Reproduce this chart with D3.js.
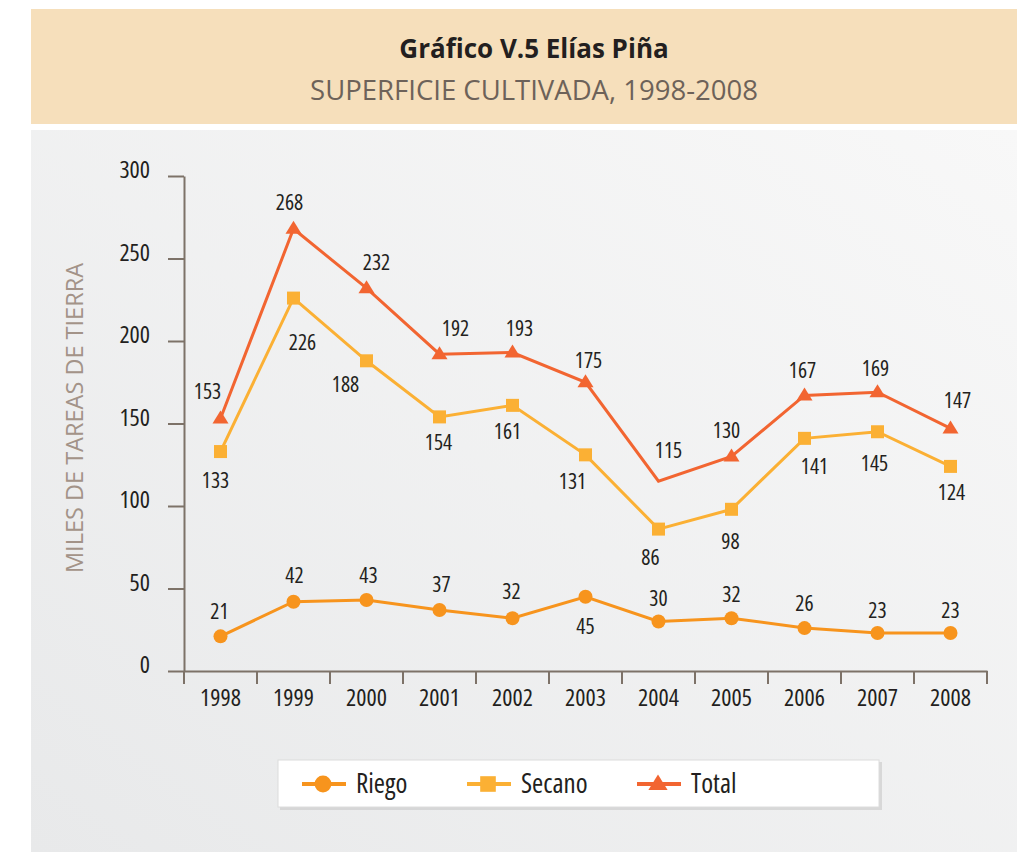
<!DOCTYPE html>
<html lang="es">
<head>
    <meta charset="UTF-8">
    <title>Gráfico V.5 Elías Piña</title>
    <script src="https://cdnjs.cloudflare.com/ajax/libs/d3/7.8.5/d3.min.js"></script>
    <style>
        body {
            margin: 0;
            background-color: #ffffff;
        }
        svg text {
            font-family: "Open Sans", "Noto Sans", sans-serif;
        }
        svg text.narrow {
            font-stretch: 75%;
        }
    </style>
</head>
<body>
    <div id="chart"></div>

    <script>
        // Data
        const years = ["1998", "1999", "2000", "2001", "2002", "2003", "2004", "2005", "2006", "2007", "2008"];
        const riego = [21, 42, 43, 37, 32, 45, 30, 32, 26, 23, 23];
        const secano = [133, 226, 188, 154, 161, 131, 86, 98, 141, 145, 124];
        const total = [153, 268, 232, 192, 193, 175, 115, 130, 167, 169, 147];
        const yTicks = [0, 50, 100, 150, 200, 250, 300];
        const seriesNames = ["Riego", "Secano", "Total"];

        // Label nudges (layout only, per point: [dx, dy])
        const riegoLabelPos = [[-1,-25],[1,-26],[2,-25],[2,-25],[-1,-27],[0,30],[0,-23],[0,-24],[0,-25],[0,-23],[0,-23]];
        const secanoLabelPos = [[-5,29],[9,44],[-21,24],[-1,26],[-5,26],[-13,27],[-8,28],[-1,32],[10,28],[-3,32],[1,26]];
        const totalLabelPos = [[-13,-27],[-4,-26],[10,-26],[16,-26],[7,-24],[3,-22],[10,-31],[-5,-26],[-2,-25],[-2,-24],[7,-28]];

        const W = 1017, H = 852;
        const colors = {Riego: "#f7941d", Secano: "#fbb034", Total: "#f26531"};
        const axisColor = "#7d7268";

        const svg = d3.select("#chart")
            .append("svg")
                .attr("width", W)
                .attr("height", H);

        const defs = svg.append("defs");
        const grad = defs.append("linearGradient")
            .attr("id", "panelGrad")
            .attr("x1", "0%").attr("y1", "100%")
            .attr("x2", "100%").attr("y2", "0%");
        grad.append("stop").attr("offset", "0%").attr("stop-color", "#e8e9ea");
        grad.append("stop").attr("offset", "100%").attr("stop-color", "#f8f8f8");

        // Header band
        svg.append("rect")
            .attr("x", 31).attr("y", 9)
            .attr("width", W - 31).attr("height", 115)
            .attr("fill", "#f6dfbb");

        svg.append("text")
            .attr("x", 534).attr("y", 58)
            .attr("text-anchor", "middle")
            .attr("font-size", 26)
            .attr("font-weight", "bold")
            .attr("fill", "#231f20")
            .text("Gráfico V.5 Elías Piña");

        svg.append("text")
            .attr("x", 534).attr("y", 100)
            .attr("text-anchor", "middle")
            .attr("font-size", 27.5)
            .attr("fill", "#6d6259")
            .text("SUPERFICIE CULTIVADA, 1998-2008");

        // Chart panel
        svg.append("rect")
            .attr("x", 31).attr("y", 130)
            .attr("width", W - 31).attr("height", H - 130)
            .attr("fill", "url(#panelGrad)");

        // Scales
        const x = d3.scaleBand()
            .domain(years)
            .range([184, 987]);

        const y = d3.scaleLinear()
            .domain([0, 300])
            .range([671, 176]);

        const cx = d => x(d) + x.bandwidth() / 2;

        // Y axis
        const yAxis = svg.append("g")
            .attr("transform", "translate(184,0)")
            .call(d3.axisLeft(y).tickValues(yTicks).tickSize(16).tickPadding(18).tickSizeOuter(0));
        yAxis.attr("font-family", null);
        yAxis.select(".domain").attr("stroke", axisColor).attr("stroke-width", 2);
        yAxis.selectAll(".tick line").attr("stroke", axisColor).attr("stroke-width", 2);
        yAxis.selectAll(".tick text")
            .attr("class", "narrow")
            .attr("font-size", 24)
            .attr("fill", "#231f20")
            .attr("dy", "0.08em");

        // X axis
        const xAxis = svg.append("g")
            .attr("transform", "translate(0,671)")
            .call(d3.axisBottom(x).tickSize(0).tickPadding(18).tickSizeOuter(0));
        xAxis.attr("font-family", null);
        xAxis.select(".domain").attr("stroke", axisColor).attr("stroke-width", 2);
        xAxis.selectAll(".tick text")
            .attr("class", "narrow")
            .attr("font-size", 24)
            .attr("fill", "#231f20");

        // category separator ticks
        const edges = years.map(d => x(d)).concat([x.range()[1]]);
        xAxis.selectAll(".sep")
            .data(edges)
            .join("line")
                .attr("class", "sep")
                .attr("x1", d => d).attr("x2", d => d)
                .attr("y1", 0).attr("y2", 13)
                .attr("stroke", axisColor)
                .attr("stroke-width", 2);

        // Y axis title
        svg.append("text")
            .attr("transform", "translate(83,418) rotate(-90)")
            .attr("text-anchor", "middle")
            .attr("font-size", 23.5)
            .attr("fill", "#a39388")
            .text("MILES DE TAREAS DE TIERRA");

        // Marker helpers
        function drawMarker(g, name, px, py, s = 1) {
            if (name === "Riego") {
                g.append("circle").attr("cx", px).attr("cy", py).attr("r", 7 * s).attr("fill", colors.Riego);
            } else if (name === "Secano") {
                const h = 6.5 * s;
                g.append("rect").attr("x", px - h).attr("y", py - h).attr("width", 2 * h).attr("height", 2 * h).attr("fill", colors.Secano);
            } else {
                g.append("path")
                    .attr("d", `M${px},${py - 8 * s}L${px + 8 * s},${py + 5 * s}L${px - 8 * s},${py + 5 * s}Z`)
                    .attr("fill", colors.Total);
            }
        }

        const line = d3.line()
            .x(d => cx(d.year))
            .y(d => y(d.value));

        const series = [
            {name: "Riego", values: riego, pos: riegoLabelPos},
            {name: "Secano", values: secano, pos: secanoLabelPos},
            {name: "Total", values: total, pos: totalLabelPos}
        ];

        series.forEach(s => {
            const pts = years.map((yr, i) => ({year: yr, value: s.values[i]}));
            const g = svg.append("g");
            g.append("path")
                .datum(pts)
                .attr("fill", "none")
                .attr("stroke", colors[s.name])
                .attr("stroke-width", 3)
                .attr("stroke-linejoin", "miter")
                .attr("d", line);

            // Total has no marker at 2004 in the original
            pts.forEach(p => {
                if (s.name === "Total" && p.year === "2004") return;
                drawMarker(g, s.name, cx(p.year), y(p.value));
            });

            g.selectAll(".lbl")
                .data(pts)
                .join("text")
                    .attr("class", "lbl narrow")
                    .attr("x", (d, i) => cx(d.year) + s.pos[i][0])
                    .attr("y", (d, i) => y(d.value) + s.pos[i][1])
                    .attr("dy", "0.35em")
                    .attr("text-anchor", "middle")
                    .attr("font-size", 21.5)
                    .attr("fill", "#231f20")
                    .text(d => d.value);
        });

        // Legend
        const legend = svg.append("g");
        legend.append("rect")
            .attr("x", 280).attr("y", 762)
            .attr("width", 602).attr("height", 48)
            .attr("fill", "#c8c8c8")
            .attr("opacity", 0.6);
        legend.append("rect")
            .attr("x", 278).attr("y", 760)
            .attr("width", 601).attr("height", 47)
            .attr("fill", "#ffffff")
            .attr("stroke", "#dcdcdc")
            .attr("stroke-width", 1);

        const legendX = [302, 467, 637];
        seriesNames.forEach((name, i) => {
            const lx = legendX[i];
            legend.append("line")
                .attr("x1", lx).attr("x2", lx + 44)
                .attr("y1", 784).attr("y2", 784)
                .attr("stroke", colors[name])
                .attr("stroke-width", 4);
            drawMarker(legend, name, lx + 21, 784, 1.2);
            legend.append("text")
                .attr("class", "narrow")
                .attr("x", lx + 54).attr("y", 784)
                .attr("dy", "0.35em")
                .attr("font-size", 27)
                .attr("fill", "#231f20")
                .text(name);
        });
    </script>
</body>
</html>
